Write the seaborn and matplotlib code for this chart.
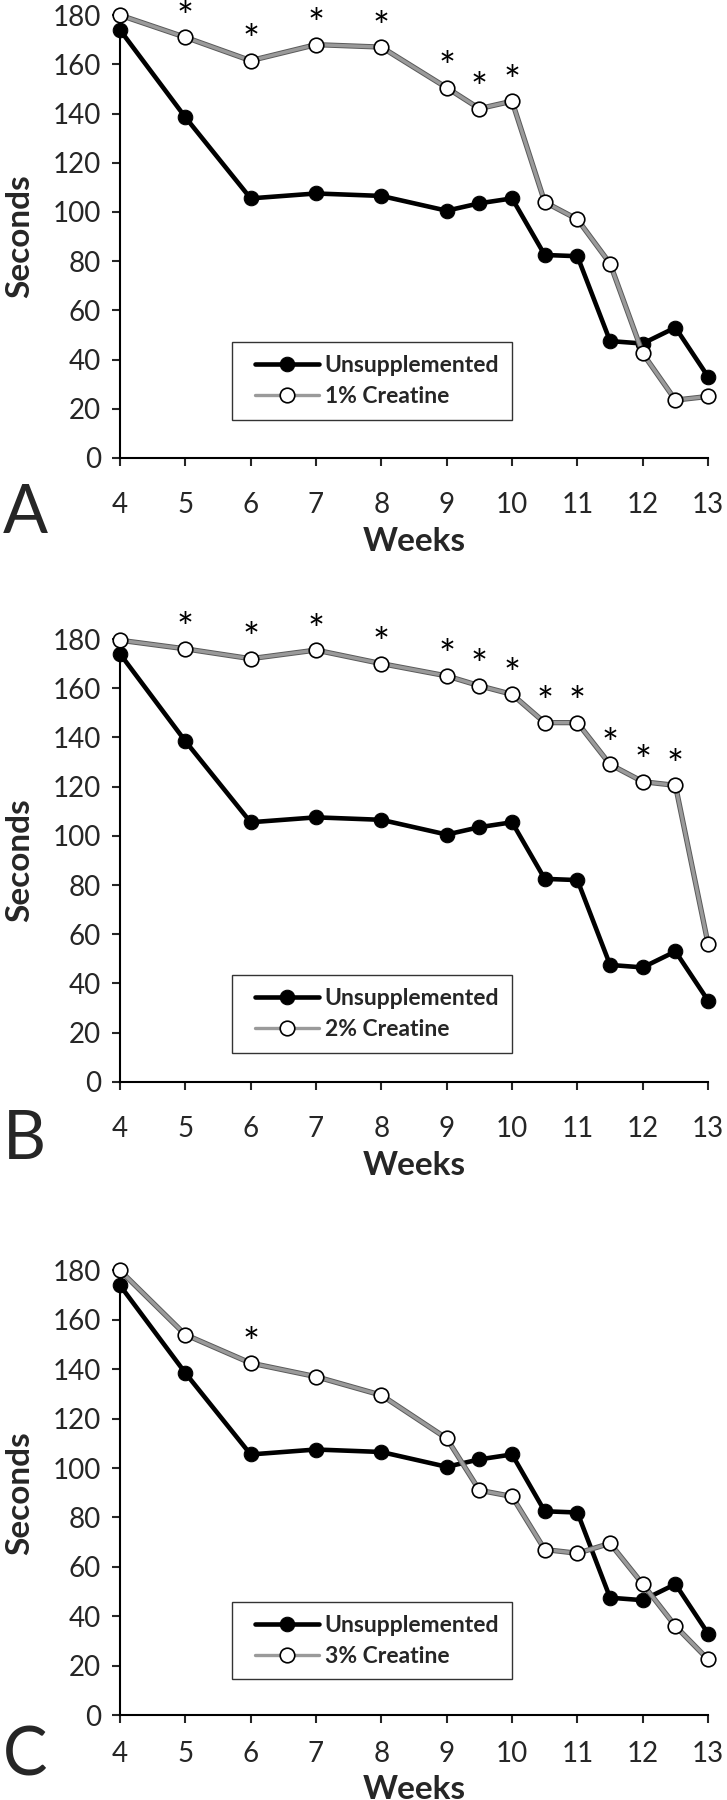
import pandas as pd
import seaborn as sns
import matplotlib.pyplot as plt
from matplotlib.lines import Line2D
from matplotlib.legend_handler import HandlerLine2D

weeks = [4, 5, 6, 7, 8, 9, 9.5, 10, 10.5, 11, 11.5, 12, 12.5, 13]
unsupplemented = [174, 138.5, 105.5, 107.5, 106.5, 100.5, 103.5, 105.5, 82.5, 82, 47.5, 46.5, 53, 33]
creatine_1 = [180, 171, 161.5, 168, 167, 150.5, 142, 145, 104, 97, 79, 42.5, 23.5, 25]
creatine_2 = [179.5, 176, 172, 175.5, 170, 165, 161, 157.5, 146, 146, 129, 122, 120.5, 56]
creatine_3 = [180, 154, 142.5, 137, 129.5, 112, 91, 88.5, 67, 65.5, 69.5, 53, 36, 22.5]

stars_1 = [5, 6, 7, 8, 9, 9.5, 10]
stars_2 = [5, 6, 7, 8, 9, 9.5, 10, 10.5, 11, 11.5, 12, 12.5]
stars_3 = [6]

panel_letters = ['A', 'B', 'C']
creatine_labels = ['1% Creatine', '2% Creatine', '3% Creatine']
creatine_series = [creatine_1, creatine_2, creatine_3]
star_weeks = [stars_1, stars_2, stars_3]

x_ticks = [4, 5, 6, 7, 8, 9, 10, 11, 12, 13]
y_ticks = [0, 20, 40, 60, 80, 100, 120, 140, 160, 180]

sns.set_style('ticks')
plt.rcParams['font.family'] = ['Lato', 'DejaVu Sans']

fig = plt.figure(figsize=(7.27, 18), dpi=100)

# per panel: axes bottom, height, legend y, x tick pad, xlabel y, letter y
layout = [
    (0.7456, 0.246, 0.086, 19, -0.157, -0.169),
    (0.399, 0.246, 0.066, 19, -0.157, -0.175),
    (0.0472, 0.247, 0.08, 13, -0.134, -0.135),
]

for letter, label, series, stars, lay in zip(panel_letters, creatine_labels,
                                             creatine_series, star_weeks, layout):
    bottom, height, ly, xpad, xl_y, let_y = lay
    ax = fig.add_axes([0.165, bottom, 0.809, height])
    df = pd.DataFrame({'Weeks': weeks, 'control': unsupplemented, 'creatine': series})

    sns.lineplot(data=df, x='Weeks', y='control', ax=ax, color='black', lw=3.3,
                 marker='o', markersize=10.5, markerfacecolor='black',
                 markeredgecolor='black', label='Unsupplemented', clip_on=False, zorder=3)
    # dark edge under the grey creatine line
    sns.lineplot(data=df, x='Weeks', y='creatine', ax=ax, color='#5a5a5a', lw=3.8,
                 clip_on=False, zorder=4)
    sns.lineplot(data=df, x='Weeks', y='creatine', ax=ax, color='#9a9a9a', lw=2.4,
                 marker='o', markersize=10.5, markerfacecolor='white',
                 markeredgecolor='black', markeredgewidth=1.2, label=label,
                 clip_on=False, zorder=5)

    # significance asterisks above the creatine points
    for w in stars:
        yv = df.loc[df['Weeks'] == w, 'creatine'].iloc[0]
        ax.annotate('*', (w, yv), xytext=(0, 13), textcoords='offset points',
                    ha='center', va='center', fontsize=29, color='black')

    ax.set_xlim(4, 13)
    ax.set_ylim(0, 180)
    ax.set_xticks(x_ticks)
    ax.set_yticks(y_ticks)
    ax.tick_params(axis='y', length=5.5, width=1.5, pad=8, labelsize=20)
    ax.tick_params(axis='x', length=5.5, width=1.5, pad=xpad, labelsize=20)
    for s in ['top', 'right']:
        ax.spines[s].set_visible(False)
    for s in ['left', 'bottom']:
        ax.spines[s].set_linewidth(1.5)
        ax.spines[s].set_color('black')

    ax.set_xlabel('Weeks', fontsize=24, fontweight='bold')
    ax.xaxis.set_label_coords(0.5, xl_y)
    ax.set_ylabel('Seconds', fontsize=24, fontweight='bold')
    ax.yaxis.set_label_coords(-0.145, 0.5)

    ax.text(-0.199, let_y, letter, transform=ax.transAxes, ha='left', va='baseline',
            fontsize=48)

    leg = ax.legend(loc='lower left', bbox_to_anchor=(0.19, ly), borderaxespad=0,
                    fancybox=False, edgecolor='black', handlelength=3.25,
                    handletextpad=0.25, labelspacing=0.45, borderpad=0.55,
                    handler_map={Line2D: HandlerLine2D(xpad=0.45)},
                    prop={'weight': 'bold', 'size': 16.5})
    leg.get_frame().set_linewidth(1.0)

fig.savefig('out.png', dpi=100, facecolor='white')
